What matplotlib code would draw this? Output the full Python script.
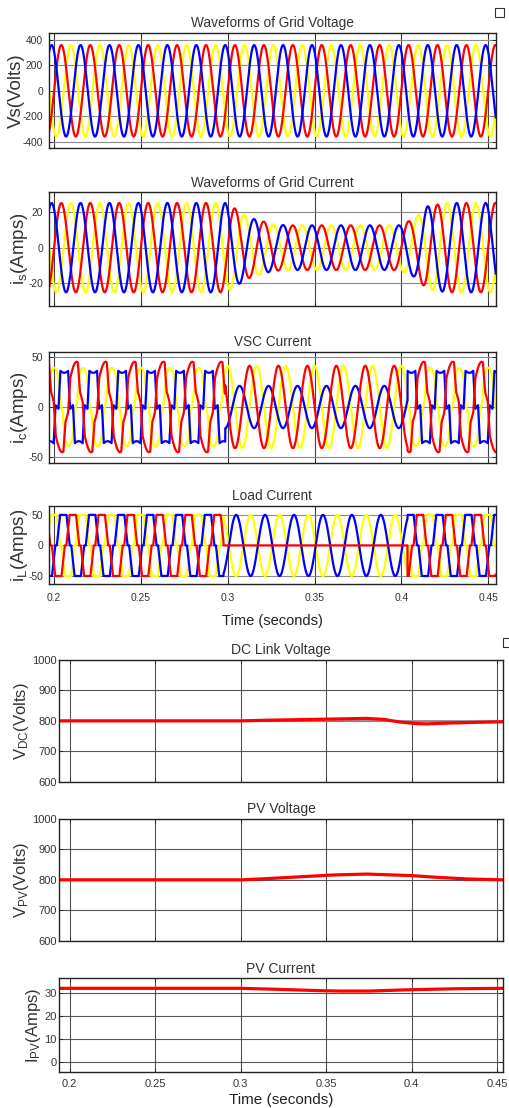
import numpy as np
import matplotlib
matplotlib.use('Agg')
import matplotlib.pyplot as plt
from matplotlib.patches import Rectangle

plt.rcParams['font.family'] = ['Liberation Sans', 'DejaVu Sans']
plt.rcParams['axes.unicode_minus'] = False
plt.rcParams['mathtext.fontset'] = 'custom'
plt.rcParams['mathtext.rm'] = 'Liberation Sans'
plt.rcParams['mathtext.it'] = 'Liberation Sans:italic'

# ---------------- data ----------------
FREQ = 60.0                      # Hz (3 cycles per 0.05 s)
XLIM_TOP = (0.197, 0.4543)
XLIM_BOT = (0.1939, 0.4532)
XTICKS = [0.2, 0.25, 0.3, 0.35, 0.4, 0.45]
XTICKLABELS = ['0.2', '0.25', '0.3', '0.35', '0.4', '0.45']

COLORS = {'yellow': '#FFFF00', 'blue': '#0000FF', 'red': '#FF0000'}
ORDER_SINE = ['yellow', 'red', 'blue']     # blue drawn on top
ORDER_LOAD = ['yellow', 'blue', 'red']     # red drawn on top

# event times (load phase opened / reconnected)
T_OPEN_LOAD, T_CLOSE_LOAD = 0.2975, 0.4035
T_OPEN_VSC, T_CLOSE_VSC = 0.2985, 0.4035

# grid voltage: amplitude and time of a positive peak per phase
VS_AMP = 360
VS_PEAK = {'blue': 0.1985, 'red': 0.2041, 'yellow': 0.2096}

# grid current: in phase with voltage, amplitude envelope
IS_ENV_T = [0.19, 0.2985, 0.304, 0.307, 0.311, 0.315, 0.321, 0.326, 0.335,
            0.399, 0.4068, 0.409, 0.4145, 0.42, 0.426, 0.46]
IS_ENV_A = [25, 25, 22, 20, 17.5, 16, 14.5, 13, 12.5,
            12.5, 16, 17.5, 23, 24, 25, 25]

# load current: six-pulse blocks of height 50, centre of + block
IL_AMP = 50
IL_CENTER = {'blue': 0.2052, 'red': 0.2107, 'yellow': 0.1996}
# while one phase is open: two opposite sinusoids, red = 0
IL_MID_AMP = {'blue': 50, 'yellow': 50, 'red': 0}
IL_MID_PEAK = {'blue': 0.3048, 'yellow': 0.3131, 'red': 0.3}

# VSC current: block part + sinusoidal part (before 0.3 and after 0.4)
IC_CENTER = {'yellow': 0.2000, 'blue': 0.2058, 'red': 0.2114}
IC_BLOCK = {'yellow': 17, 'blue': 40, 'red': 25}
IC_SIN_AMP = {'yellow': 22, 'blue': -6, 'red': 20}
IC_SIN_PEAK = {'yellow': 0.2000, 'blue': 0.2058, 'red': 0.2129}
# VSC current between the events: sinusoids
IC_MID_AMP = {'red': 41, 'yellow': 41, 'blue': 21}
IC_MID_PEAK = {'red': 0.3125, 'yellow': 0.3000, 'blue': 0.3068}

# DC link voltage
VDC_T = [0.1939, 0.300, 0.3152, 0.3347, 0.3542, 0.3737, 0.3834, 0.3932,
         0.403, 0.4087, 0.4224, 0.4532]
VDC_V = [800, 800, 802, 804, 806, 808, 805, 796, 791, 790, 793, 797]
VDC_REF = 800

# PV voltage
VPV_T = [0.1939, 0.300, 0.315, 0.3347, 0.354, 0.3737, 0.40, 0.4127, 0.432, 0.4532]
VPV_V = [800, 800, 804, 810, 816, 819, 814, 809, 803, 800]

# PV current
IPV_T = [0.1939, 0.300, 0.320, 0.345, 0.3583, 0.375, 0.40, 0.425, 0.4532]
IPV_V = [32.2, 32.2, 31.8, 31.2, 31.0, 31.0, 31.6, 32.0, 32.2]

# ---------------- helpers ----------------
t = np.linspace(XLIM_TOP[0], XLIM_TOP[1], 24000)
w = 2 * np.pi * FREQ


def sine(amp, tpk):
    return amp * np.cos(w * (t - tpk))


def block(center, ramp):
    th = np.degrees(w * (t - center))
    th = (th + 180) % 360 - 180
    a = np.abs(th)
    return np.interp(a, [0, 60 - ramp, 60 + ramp, 120 - ramp, 120 + ramp, 180],
                     [1, 1, 0, 0, -1, -1])


env = np.interp(t, IS_ENV_T, IS_ENV_A)
mid_load = (t >= T_OPEN_LOAD) & (t < T_CLOSE_LOAD)
mid_vsc = (t >= T_OPEN_VSC) & (t < T_CLOSE_VSC)

vs, isg, il, ic = {}, {}, {}, {}
for p in COLORS:
    vs[p] = sine(VS_AMP, VS_PEAK[p])
    isg[p] = env * np.cos(w * (t - VS_PEAK[p]))
    il[p] = np.where(mid_load, sine(IL_MID_AMP[p], IL_MID_PEAK[p]),
                     IL_AMP * block(IL_CENTER[p], 20.0))
    ic[p] = np.where(mid_vsc, sine(IC_MID_AMP[p], IC_MID_PEAK[p]),
                     IC_BLOCK[p] * block(IC_CENTER[p], 12.0)
                     + sine(IC_SIN_AMP[p], IC_SIN_PEAK[p]))

# ---------------- figure ----------------
W, H = 509, 1108
fig = plt.figure(figsize=(W / 100, H / 100), dpi=100)


def add_ax(left, right, top, bottom):
    return fig.add_axes([left / W, 1 - bottom / H, (right - left) / W, (bottom - top) / H])


def style(ax, xlim, yticks, ylim, title, ylabel, tick_fs, label_fs, title_fs,
          xgrid='#444444', ygrid='#8a8a8a', show_x=False, xlabel_fs=10,
          ypad=2, xpad=2, ylabelpad=1, xlabelpad=2):
    ax.set_xlim(*xlim)
    ax.set_ylim(*ylim)
    ax.set_xticks(XTICKS)
    ax.set_yticks(yticks)
    ax.set_yticklabels([str(v) for v in yticks])
    if show_x:
        ax.set_xticklabels(XTICKLABELS)
        ax.set_xlabel('Time (seconds)', fontsize=xlabel_fs, color='#222222',
                      labelpad=xlabelpad)
    else:
        ax.set_xticklabels([])
    ax.tick_params(direction='in', top=True, right=True, length=3, width=0.6,
                   labelsize=tick_fs, colors='#222222', labelcolor='#333333')
    ax.tick_params(axis='y', pad=ypad)
    ax.tick_params(axis='x', pad=xpad)
    ax.xaxis.grid(True, color=xgrid, lw=0.8)
    ax.yaxis.grid(True, color=ygrid, lw=0.8)
    ax.set_axisbelow(True)
    for s in ax.spines.values():
        s.set_color('#222222')
        s.set_linewidth(1.0)
    ax.set_title(title, fontsize=title_fs, color='#333333', pad=4)
    ax.set_ylabel(ylabel, fontsize=label_fs, color='#333333', labelpad=ylabelpad)


LW = 1.6
TOP = dict(tick_fs=7.4, label_fs=13.5, title_fs=9.8, ypad=4.2, ylabelpad=-1.5)
BOT = dict(tick_fs=8, label_fs=12, title_fs=10, xgrid='#555555', ygrid='#555555')

# top figure
ax1 = add_ax(49, 495.7, 33, 148)
for p in ORDER_SINE:
    ax1.plot(t, vs[p], color=COLORS[p], lw=LW)
style(ax1, XLIM_TOP, [-400, -200, 0, 200, 400], (-450, 455),
      'Waveforms of Grid Voltage', 'Vs(Volts)', **TOP)

ax2 = add_ax(49, 495.7, 192.3, 305.7)
for p in ORDER_SINE:
    ax2.plot(t, isg[p], color=COLORS[p], lw=LW)
style(ax2, XLIM_TOP, [-20, 0, 20], (-32.5, 31),
      'Waveforms of Grid Current', r'$\mathregular{i_s}$(Amps)', **TOP)

ax3 = add_ax(49, 495.7, 351.7, 462.7)
for p in ORDER_LOAD:
    ax3.plot(t, ic[p], color=COLORS[p], lw=LW)
style(ax3, XLIM_TOP, [-50, 0, 50], (-55.4, 55),
      'VSC Current', r'$\mathregular{i_c}$(Amps)', **TOP)

ax4 = add_ax(49, 495.7, 505.7, 584.3)
for p in ORDER_LOAD:
    ax4.plot(t, il[p], color=COLORS[p], lw=LW)
style(ax4, XLIM_TOP, [-50, 0, 50], (-63.6, 65),
      'Load Current', r'$\mathregular{i_L}$(Amps)', **TOP,
      show_x=True, xlabel_fs=10.5, xpad=6, xlabelpad=8)

# bottom figure
tb = np.linspace(XLIM_BOT[0], XLIM_BOT[1], 2000)
ax5 = add_ax(59.3, 502.7, 660, 781.7)
ax5.plot(tb, np.full_like(tb, VDC_REF), color='#9a9a9a', lw=1.2)
ax5.plot(VDC_T, VDC_V, color='#FF0000', lw=2.3)
style(ax5, XLIM_BOT, [600, 700, 800, 900, 1000], (600, 1000),
      'DC Link Voltage', r'$\mathregular{V_{DC}}$(Volts)', **BOT)

ax6 = add_ax(59.3, 502.7, 819, 940.7)
ax6.plot(VPV_T, VPV_V, color='#FF0000', lw=2.3)
style(ax6, XLIM_BOT, [600, 700, 800, 900, 1000], (600, 1000),
      'PV Voltage', r'$\mathregular{V_{PV}}$(Volts)', **BOT)

ax7 = add_ax(59.3, 502.7, 978.3, 1071.7)
ax7.plot(IPV_T, IPV_V, color='#FF0000', lw=2.3)
style(ax7, XLIM_BOT, [0, 10, 20, 30], (-4.4, 36.6),
      'PV Current', r'$\mathregular{I_{PV}}$(Amps)', **BOT,
      show_x=True, xlabel_fs=11, xpad=5.2, xlabelpad=3)

# small scope-window icons at the top right of each figure
for (x0, y0, ww, hh) in [(495, 8, 9, 9), (503, 638, 8, 9)]:
    fig.patches.append(Rectangle((x0 / W, 1 - (y0 + hh) / H), ww / W, hh / H,
                                 transform=fig.transFigure, fill=False,
                                 edgecolor='#333333', lw=0.8))

fig.savefig('out.png', dpi=100, facecolor='white')
